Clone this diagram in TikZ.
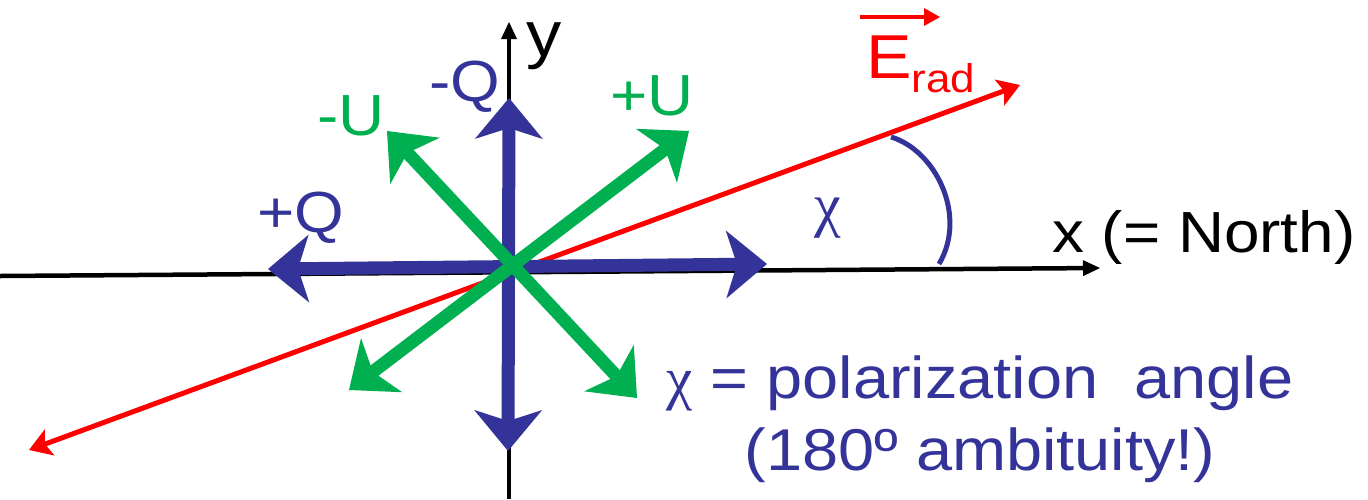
\documentclass[tikz,border=0pt]{standalone}
\usepackage{fontspec}
\setmainfont{Liberation Sans}[FakeStretch=1.1]
\newfontfamily\greekfont{Liberation Serif}
\usetikzlibrary{arrows.meta}
\definecolor{qblue}{RGB}{51,51,153}
\definecolor{ugreen}{RGB}{0,176,80}
\definecolor{ered}{RGB}{255,0,0}
\tikzset{every node/.style={font=\fontsize{58}{70}\selectfont,inner sep=0pt},
  stokes/.style={line width=13pt,{Stealth[length=41pt,width=68pt,inset=11pt,line width=0pt]}-{Stealth[length=41pt,width=68pt,inset=11pt,line width=0pt]}},
  axisline/.style={line width=4.5pt,-{Triangle[length=17pt,width=16pt,line width=0pt]}},
  fieldline/.style={ered,line width=5pt,{Stealth[length=22pt,width=28pt,inset=5pt,line width=0pt]}-{Stealth[length=22pt,width=28pt,inset=5pt,line width=0pt]}}}

\begin{document}
\begin{tikzpicture}[x=1pt,y=-1pt]
  \path[use as bounding box] (0,0) rectangle (1368,499);
  % axes
  \coordinate (xa) at (0,276);
  \coordinate (xb) at (1100,268);
  \coordinate (ya) at (509,499);
  \coordinate (yb) at (509,22);
  \draw[axisline] (xa)--(xb);
  \draw[axisline] (ya)--(yb);

  % radiated field, both ways
  \coordinate (ea) at (29,450);
  \coordinate (eb) at (1020,85);
  \draw[fieldline] (ea)--(eb);

  % Stokes Q and U directions
  \coordinate (ql) at (268,269);
  \coordinate (qr) at (767,264);
  \coordinate (qt) at (509,98);
  \coordinate (qd) at (508,451);
  \draw[stokes,qblue] (ql)--(qr);
  \draw[stokes,qblue] (qt)--(qd);
  \coordinate (ubl) at (349,390);
  \coordinate (utr) at (689,131);
  \coordinate (utl) at (387,131);
  \coordinate (ubr) at (637,398);
  \draw[stokes,ugreen] (ubl)--(utr);
  \draw[stokes,ugreen] (utl)--(ubr);

  % angle chi
  \coordinate (ca) at (891,137);
  \coordinate (cb) at (939,264);
  \draw[qblue,line width=5pt] (ca) .. controls (935,150) and (968,215) .. (cb);

  \node[qblue,anchor=base west] (pq) at (257,232) {+Q};
  \node[qblue,anchor=base west] (mq) at (429,101) {-Q};
  \node[ugreen,anchor=base west] (mu) at (317,135) {-U};
  \node[ugreen,anchor=base west] (pu) at (610,115) {+U};
  \node[anchor=base west,font=\fontsize{64}{70}\selectfont] (ylab) at (526,56) {y};
  \node[anchor=base west] (xlab) at (1052,252) {x (= North)};
  \node[qblue,font=\greekfont\fontsize{60}{70}\selectfont] (chi) at (828,218) {χ};

  \node[ered,anchor=base west,font=\fontsize{62}{70}\selectfont] (erad) at (866,78)
    {E\raisebox{-14pt}{\fontsize{40}{40}\selectfont rad}};
  \coordinate (va) at (860,17);
  \coordinate (vb) at (940,17);
  \draw[ered,line width=4pt,-{Triangle[length=16pt,width=18pt,line width=0pt]}] (va)--(vb);

  \node[qblue,align=center,anchor=north,font=\fontsize{59}{72}\selectfont] (note) at (980,356)
    {{\greekfont χ} = polarization\ \ angle\\(180º ambituity!)};
\end{tikzpicture}
\end{document}
